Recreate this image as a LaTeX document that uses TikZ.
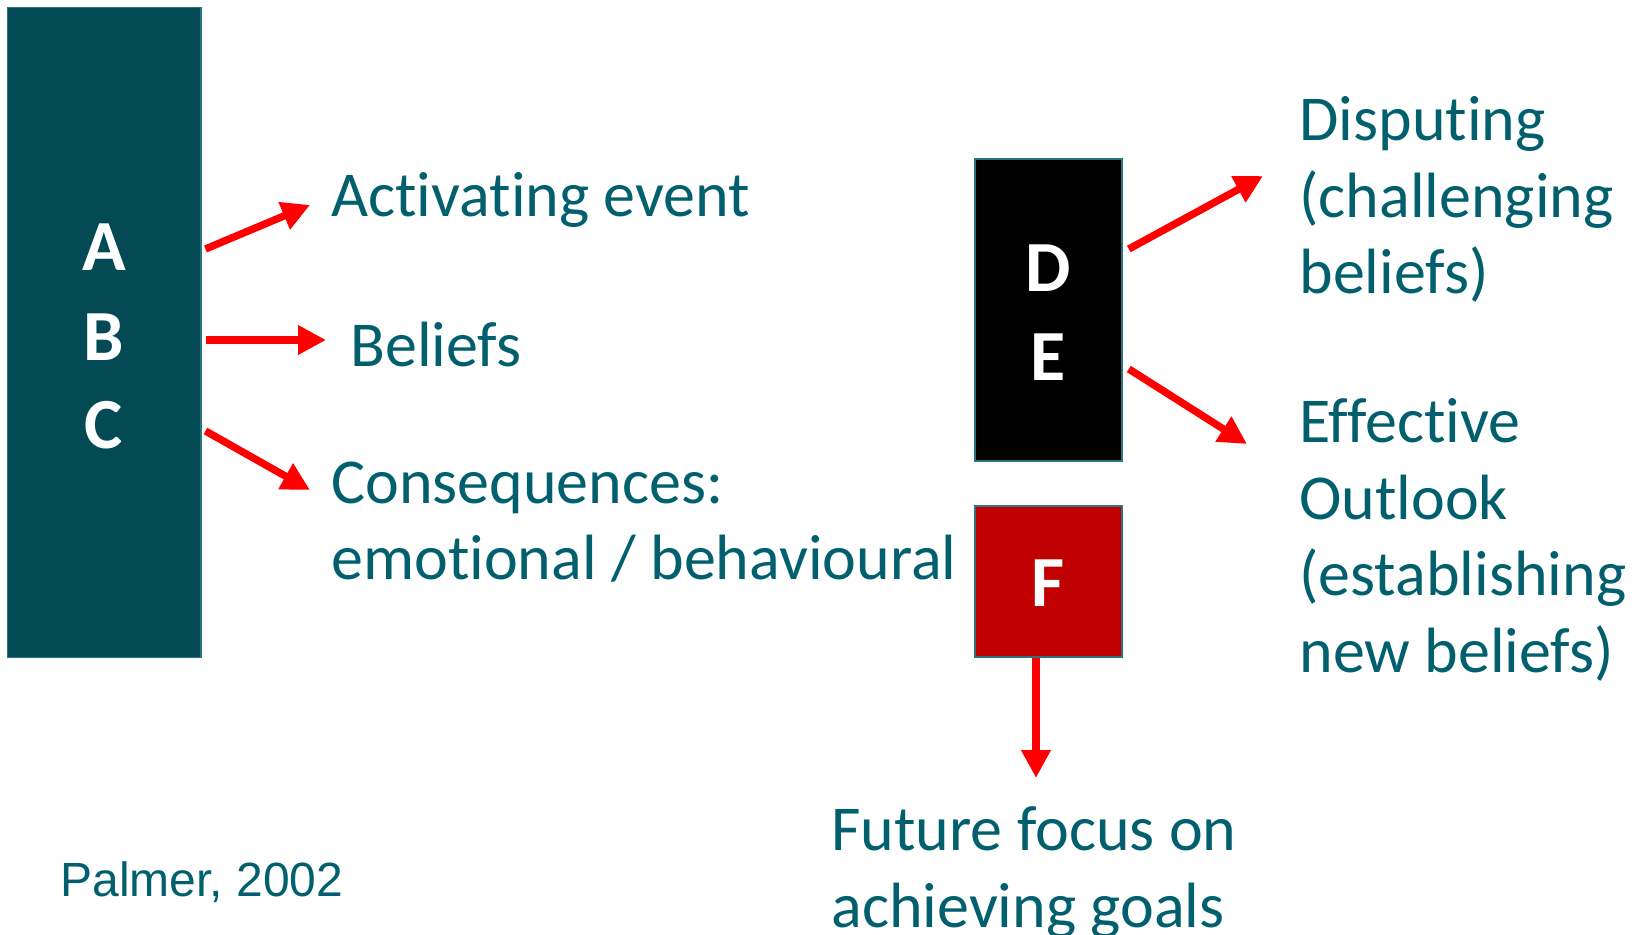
\documentclass[tikz,border=0pt]{standalone}
\usepackage{fontspec}
\setmainfont{Carlito}[Ligatures=NoCommon]
\newfontfamily\citefont{Liberation Sans}
\usetikzlibrary{arrows.meta}
\definecolor{tealbox}{HTML}{034A54}
\definecolor{tealtext}{HTML}{02606E}
\definecolor{boxedge}{HTML}{2A7480}
\definecolor{fred}{HTML}{C00000}
\definecolor{arrowred}{HTML}{FF0000}
\tikzset{
  letterbox/.style={draw=boxedge, line width=0.8pt, inner sep=0pt},
  boxletter/.style={text=white, font=\bfseries\fontsize{36}{36}\selectfont, inner sep=0pt},
  % multi-line labels are placed by the baseline of their last line
  steplabel/.style={text=tealtext, font=\fontsize{32}{38.25}\selectfont, align=left, anchor=base west, inner sep=0pt},
  link/.style={draw=arrowred, line width=3.7pt, -{Triangle[length=14pt,width=14pt]}},
}
\begin{document}
\begin{tikzpicture}[x=0.5pt, y=-0.5pt]
\useasboundingbox[fill=white] (0,0) rectangle (1639,935);

% left column: A, B, C
\node[letterbox, fill=tealbox, minimum width=96.7pt, minimum height=325pt] (abc) at (104,332.4) {};
\node[boxletter] (lA) at (104,247) {A};
\node[boxletter] (lB) at (104,337) {B};
\node[boxletter] (lC) at (104,425) {C};

\node[steplabel] (act) at (331,216.4) {Activating event};
\node[steplabel] (bel) at (350,367) {Beliefs};
\node[steplabel] (con) at (331,580) {Consequences:\\emotional / behavioural};

\coordinate (tipA) at (310,205);
\coordinate (tipB) at (326,340);
\coordinate (tipC) at (310,490);
\draw[link] ([xshift=2pt, yshift=41.7pt]abc.east) -- (tipA);
\draw[link] ([xshift=2pt, yshift=-3.8pt]abc.east) -- (tipB);
\draw[link] ([xshift=2pt, yshift=-49.3pt]abc.east) -- (tipC);

% right column: D, E and F
\node[letterbox, fill=black, minimum width=73.5pt, minimum height=151pt] (de) at (1048.5,310) {};
\node[boxletter] (lD) at (1048.5,268) {D};
\node[boxletter] (lE) at (1048.5,357) {E};
\node[letterbox, fill=fred, minimum width=73.5pt, minimum height=75.5pt] (f) at (1048.5,581.5) {};
\node[boxletter] (lF) at (1048.5,583) {F};

\node[steplabel] (dis) at (1299,294) {Disputing\\(challenging\\beliefs)};
\node[steplabel] (eff) at (1299,672) {Effective\\Outlook\\(establishing\\new beliefs)};
\node[steplabel] (fut) at (831,927) {Future focus on\\achieving goals};

\coordinate (tipD) at (1263,176);
\coordinate (tipE) at (1247,444);
\coordinate (tipF) at (1036,778);
\draw[link] ([xshift=3pt, yshift=30.5pt]de.east) -- (tipD);
\draw[link] ([xshift=3pt, yshift=-29.5pt]de.east) -- (tipE);
\draw[link] ([xshift=-6.25pt]f.south) -- (tipF);

\node[text=tealtext, font=\citefont\fontsize{24}{24}\selectfont, anchor=base west, inner sep=0pt] (cite) at (60,896) {Palmer, 2002};
\end{tikzpicture}
\end{document}
